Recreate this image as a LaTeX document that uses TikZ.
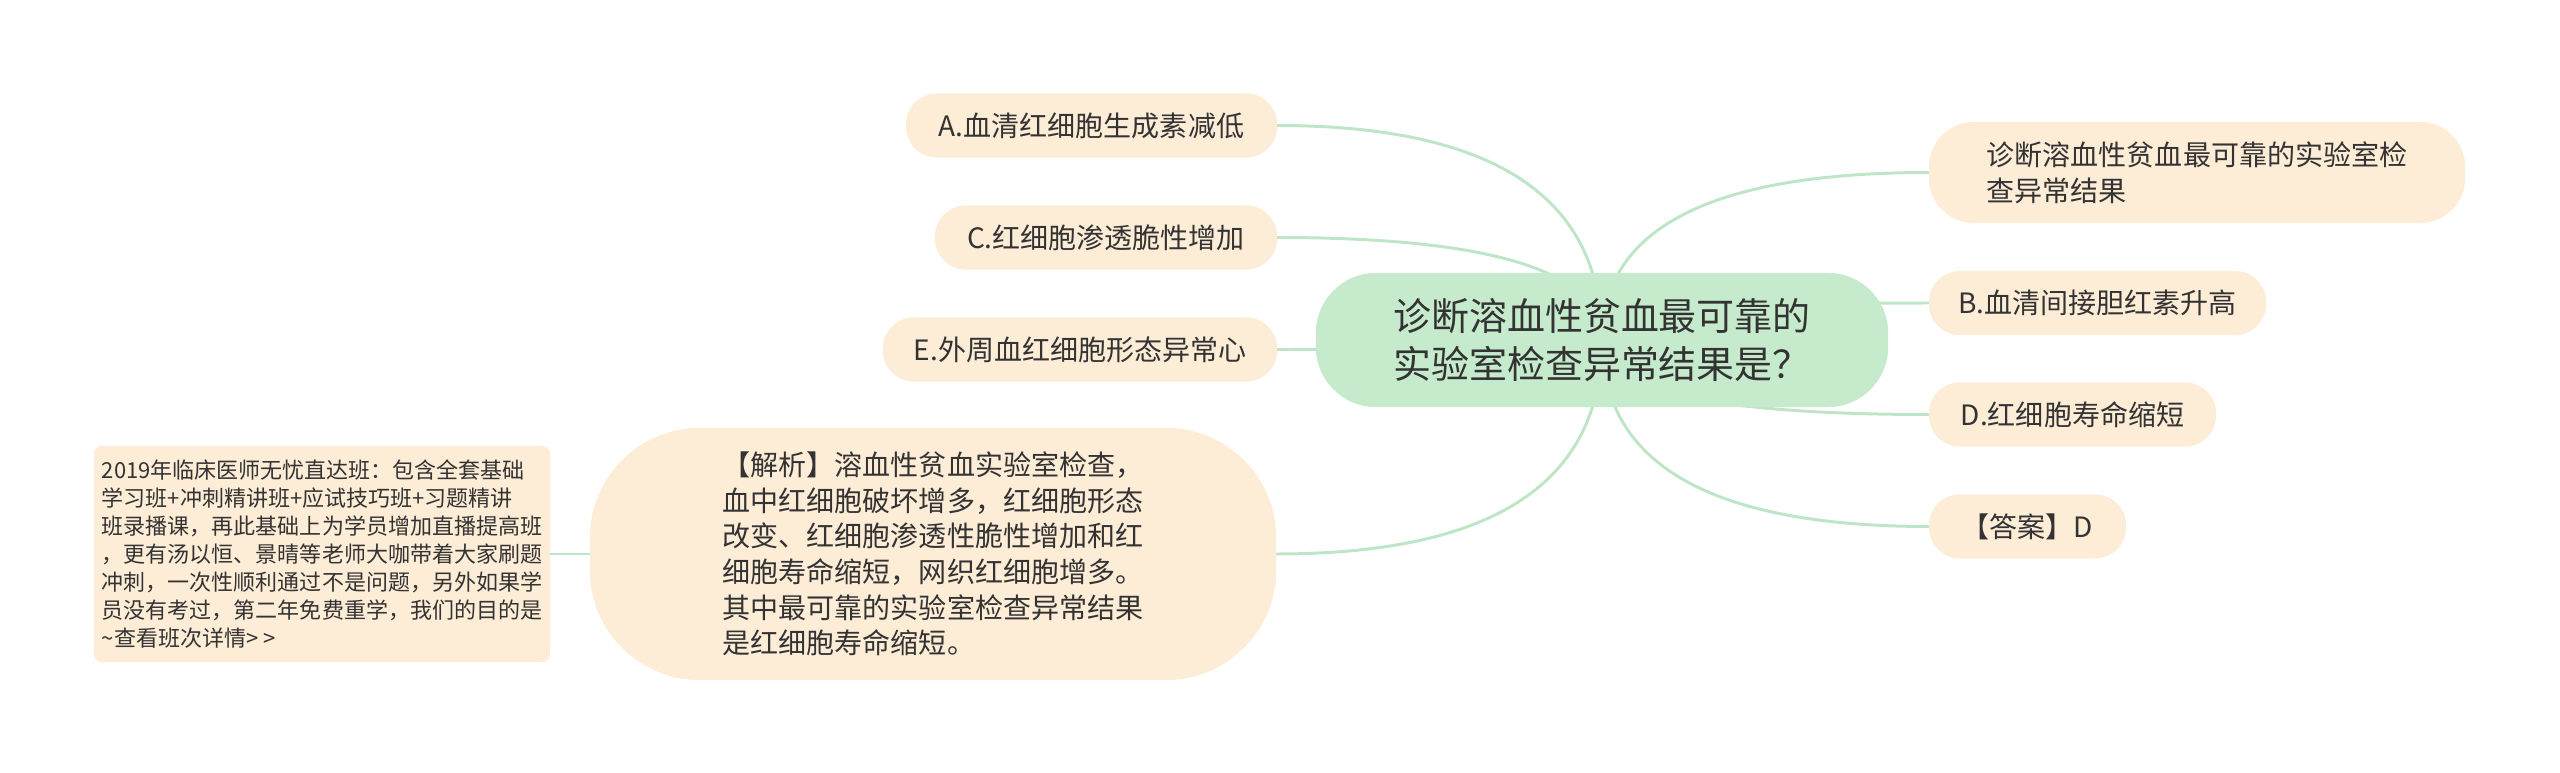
\documentclass[tikz,border=0pt]{standalone}
\usepackage{fontspec}
\setmainfont{Noto Sans CJK SC}
\usetikzlibrary{backgrounds,calc}
\definecolor{mainfill}{RGB}{197,235,204}
\definecolor{leaffill}{RGB}{253,236,214}
\definecolor{linkgreen}{RGB}{190,230,198}
\definecolor{textgray}{RGB}{51,51,51}

\begin{document}
\begin{tikzpicture}[x=0.01cm,y=-0.01cm,
    topic/.style = {fill=mainfill,rounded corners=6mm,minimum width=57.2mm,minimum height=13.4mm,
                    inner sep=0pt,outer sep=0pt,align=left,text=textgray,font=\fontsize{10.8pt}{13.7pt}\selectfont},
    leaf/.style = {fill=leaffill,rounded corners=3.1mm,minimum height=6.4mm,inner sep=0pt,outer sep=0pt,
                   text=textgray,font=\fontsize{7.97pt}{10.1pt}\selectfont},
    link/.style = {draw=linkgreen,line width=0.85pt}]
    \useasboundingbox (0,0) rectangle (2560,773);

    \node[topic] (ctr) at (1602,340) {诊断溶血性贫血最可靠的\\实验室检查异常结果是？};

    \node[leaf,minimum width=53.6mm,minimum height=10.1mm,rounded corners=4.5mm,align=left] (goal) at (2197,172.5)
        {诊断溶血性贫血最可靠的实验室检\\查异常结果};
    \node[leaf,minimum width=33.7mm] (optb) at (2097.5,303) {B.血清间接胆红素升高};
    \node[leaf,minimum width=28.7mm] (optd) at (2072.5,414.5) {D.红细胞寿命缩短};
    \node[leaf,minimum width=19.7mm] (answer) at (2027.5,526.5) {【答案】D};

    \node[leaf,minimum width=37.1mm] (opta) at (1091.5,125.5) {A.血清红细胞生成素减低};
    \node[leaf,minimum width=34.2mm] (optc) at (1106,237.5) {C.红细胞渗透脆性增加};
    \node[leaf,minimum width=39.4mm] (opte) at (1080,349.5) {E.外周血红细胞形态异常心};
    \node[leaf,minimum width=68.6mm,minimum height=25.2mm,rounded corners=11mm,align=left] (note) at (933,554)
        {【解析】溶血性贫血实验室检查，\\血中红细胞破坏增多，红细胞形态\\改变、红细胞渗透性脆性增加和红\\细胞寿命缩短，网织红细胞增多。\\其中最可靠的实验室检查异常结果\\是红细胞寿命缩短。};
    \node[leaf,minimum width=45.6mm,minimum height=21.6mm,rounded corners=0.8mm,align=left,
          font=\fontsize{6.26pt}{7.97pt}\selectfont] (promo) at (322,554)
        {2019年临床医师无忧直达班：包含全套基础\\学习班+冲刺精讲班+应试技巧班+习题精讲\\班录播课，再此基础上为学员增加直播提高班\\，更有汤以恒、景晴等老师大咖带着大家刷题\\冲刺，一次性顺利通过不是问题，另外如果学\\员没有考过，第二年免费重学，我们的目的是\\\textasciitilde 查看班次详情> >};

    \begin{scope}[on background layer]
        \draw[link] (ctr.center) .. controls ($(ctr.center)!2/3!(ctr.center |- goal.west)$) and ($(goal.west)!2/3!(ctr.center |- goal.west)$) .. (goal.west);
        \draw[link] (ctr.center) .. controls ($(ctr.center)!2/3!(ctr.center |- optb.west)$) and ($(optb.west)!2/3!(ctr.center |- optb.west)$) .. (optb.west);
        \draw[link] (ctr.center) .. controls ($(ctr.center)!2/3!(ctr.center |- optd.west)$) and ($(optd.west)!2/3!(ctr.center |- optd.west)$) .. (optd.west);
        \draw[link] (ctr.center) .. controls ($(ctr.center)!2/3!(ctr.center |- answer.west)$) and ($(answer.west)!2/3!(ctr.center |- answer.west)$) .. (answer.west);
        \draw[link] (ctr.center) .. controls ($(ctr.center)!2/3!(ctr.center |- opta.east)$) and ($(opta.east)!2/3!(ctr.center |- opta.east)$) .. (opta.east);
        \draw[link] (ctr.center) .. controls ($(ctr.center)!2/3!(ctr.center |- optc.east)$) and ($(optc.east)!2/3!(ctr.center |- optc.east)$) .. (optc.east);
        \draw[link] (ctr.center) .. controls ($(ctr.center)!2/3!(ctr.center |- opte.east)$) and ($(opte.east)!2/3!(ctr.center |- opte.east)$) .. (opte.east);
        \draw[link] (ctr.center) .. controls ($(ctr.center)!2/3!(ctr.center |- note.east)$) and ($(note.east)!2/3!(ctr.center |- note.east)$) .. (note.east);
        \draw[link] (promo.east) -- (note.west);
    \end{scope}
\end{tikzpicture}
\end{document}
